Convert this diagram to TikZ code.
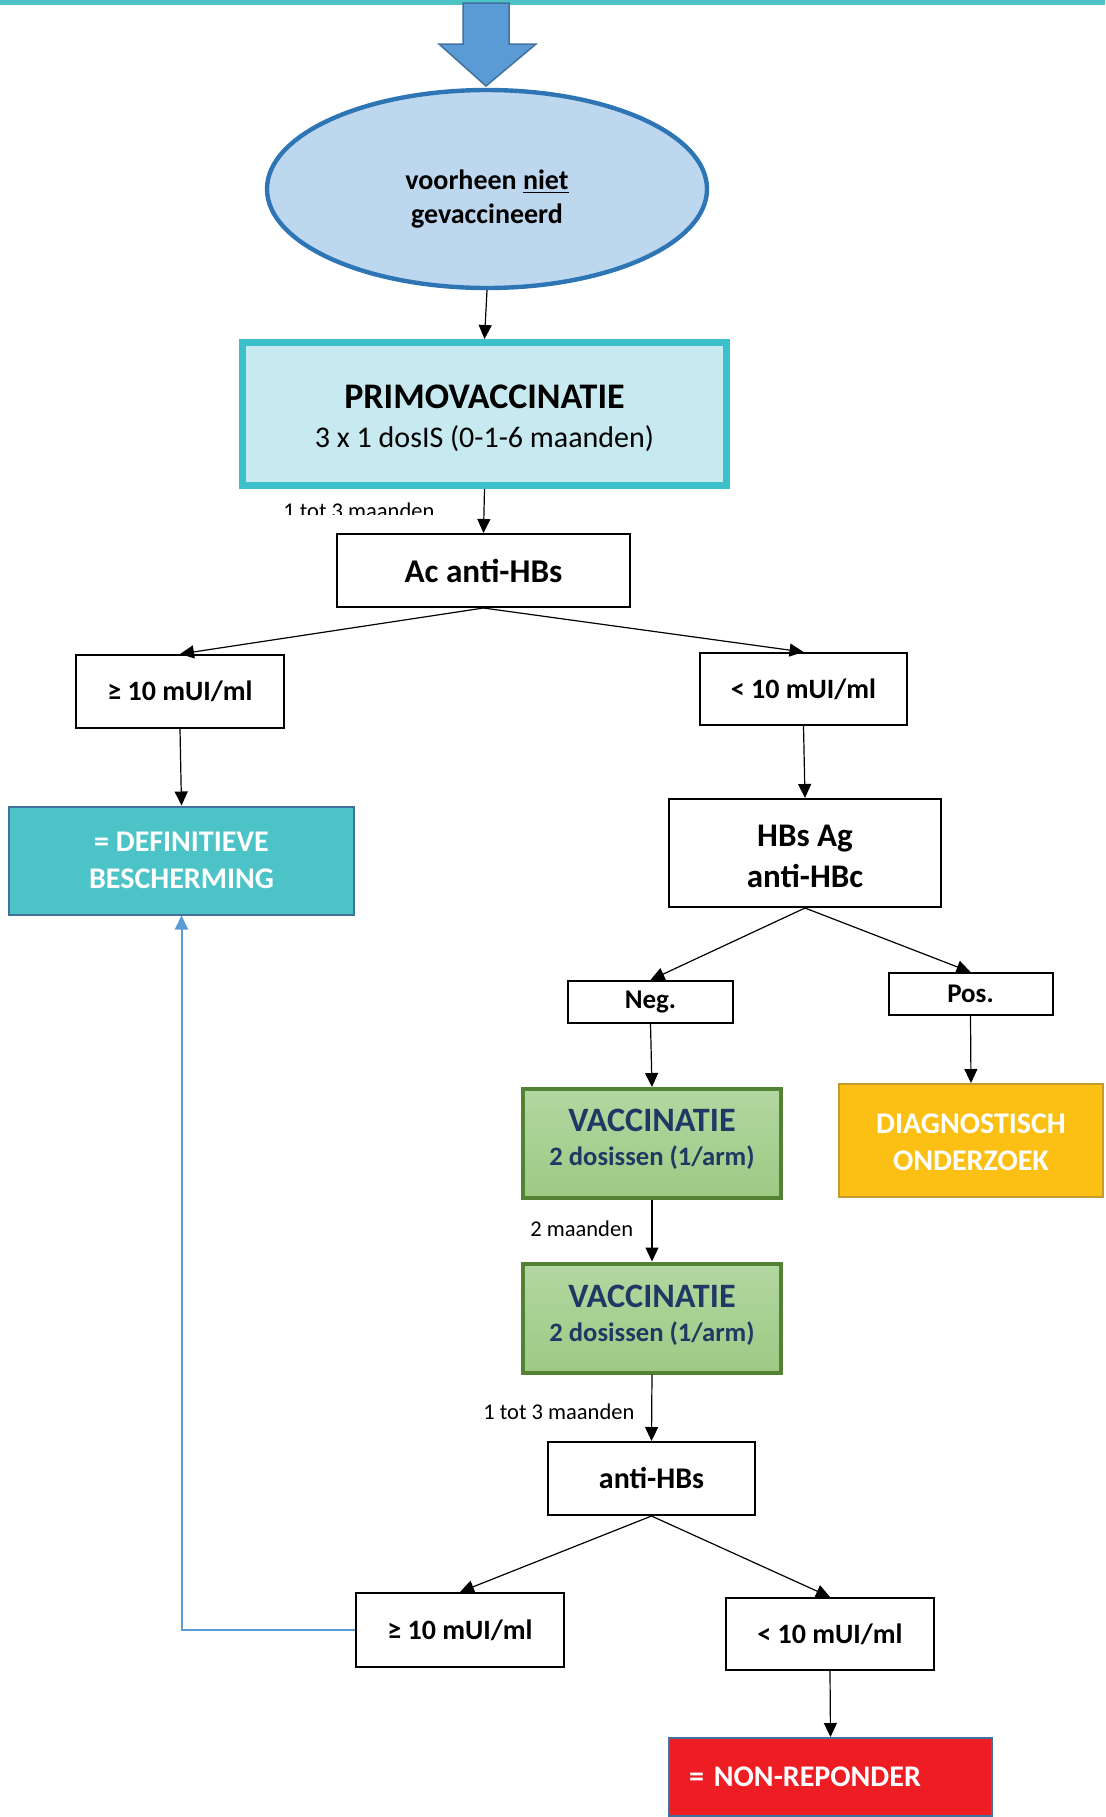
\documentclass[tikz,border=0pt]{standalone}
\usepackage{fontspec}
\setmainfont{Carlito}
\usetikzlibrary{arrows.meta,shapes.geometric}
\definecolor{tealbar}{HTML}{4BC3C7}
\definecolor{ellF}{HTML}{BDD7EE}
\definecolor{ellB}{HTML}{2E75B6}
\definecolor{blkF}{HTML}{5B9BD5}
\definecolor{blkB}{HTML}{41719C}
\definecolor{primoF}{HTML}{C7E9F0}
\definecolor{primoB}{HTML}{3CC0CC}
\definecolor{vacTop}{HTML}{B3D7A1}
\definecolor{vacBot}{HTML}{9DC984}
\definecolor{vacB}{HTML}{548235}
\definecolor{vacT}{HTML}{1F3864}
\definecolor{diagF}{HTML}{FBC013}
\definecolor{diagB}{HTML}{C49A2C}
\definecolor{nonF}{HTML}{EE1D23}
\begin{document}
\begin{tikzpicture}[x=0.5pt,y=-0.5pt,
  wbox/.style={draw=black, line width=1pt, fill=white, inner sep=0pt, align=center,
    font=\bfseries\fontsize{14}{17}\selectfont},
  conn/.style={-{Triangle[length=7pt,width=6.5pt]}, line width=0.6pt},
  bconn/.style={-{Triangle[length=7pt,width=6.5pt]}, line width=1pt, draw=blkF},
  vacbox/.style={draw=vacB, line width=2pt, top color=vacTop, bottom color=vacBot,
    inner sep=0pt, minimum width=129pt, minimum height=54.5pt},
  vactext/.style={align=center, inner sep=0pt, text=vacT, font=\bfseries\fontsize{13.3}{17}\selectfont},
  lbl/.style={inner sep=0pt, font=\fontsize{11.25}{13}\selectfont, anchor=base west}
]
\useasboundingbox (0,0) rectangle (1105,1817);
% top bar
\fill[tealbar] (0,0) rectangle (1105,5);
% block arrow
\draw[fill=blkF, draw=blkB, line width=0.75pt] (463,3) -- (509,3) -- (509,44) -- (536,44)
  -- (486,86) -- (439,44) -- (463,44) -- cycle;
% nodes
\node[ellipse, draw=ellB, line width=2.2pt, fill=ellF, minimum width=220pt, minimum height=99pt,
  inner sep=0pt,
  label={[align=center, inner sep=0pt, yshift=-4.9pt, font=\bfseries\fontsize{14}{17}\selectfont]center:{voorheen \underline{niet}\\gevaccineerd}}]
  (ell) at (487,189) {};
\node[draw=primoB, line width=3.5pt, fill=primoF, minimum width=242pt, minimum height=71.5pt,
  inner sep=0pt,
  label={[align=center, inner sep=0pt, yshift=-2.3pt, font=\fontsize{18}{19.5}\selectfont]center:{\textbf{PRIMOVACCINATIE}\\\fontsize{15}{19.5}\selectfont 3 x 1 dosIS (0-1-6 maanden)}}]
  (primo) at (484.5,414) {};
\node[wbox, minimum width=146.5pt, minimum height=36.5pt, font=\bfseries\fontsize{16.6}{18}\selectfont] (ac) at (483.5,570.5) {Ac anti-HBs};
\node[wbox, minimum width=104pt, minimum height=36.5pt] (geL) at (180,691.5) {≥ 10 mUI/ml};
\node[draw=blkB, line width=1pt, fill=tealbar, minimum width=172.5pt, minimum height=54pt,
  inner sep=0pt, align=center, text=white, font=\bfseries\fontsize{15}{18.5}\selectfont] (def) at (181.5,860.5)
  {= DEFINITIEVE\\BESCHERMING};
\node[wbox, minimum width=103.5pt, minimum height=36pt] (ltR) at (803.5,689) {< 10 mUI/ml};
\node[wbox, minimum width=136pt, minimum height=54pt,
  label={[align=center, inner sep=0pt, yshift=-1.7pt, font=\bfseries\fontsize{16.5}{20.5}\selectfont]center:{HBs Ag\\anti-HBc}}]
  (hbs) at (805,853) {};
\node[wbox, minimum width=82.5pt, minimum height=21pt, font=\bfseries\fontsize{13.5}{16}\selectfont] (neg) at (650.5,1002) {Neg.};
\node[wbox, minimum width=82pt, minimum height=21pt, font=\bfseries\fontsize{13.5}{16}\selectfont] (pos) at (970.5,994) {Pos.};
\node[vacbox, label={[vactext, yshift=2.3pt]center:{\fontsize{17.1}{17}\selectfont VACCINATIE\\2 dosissen (1/arm)}}]
  (vac1) at (652,1143.5) {};
\node[draw=diagB, line width=1pt, fill=diagF, minimum width=132pt, minimum height=56.5pt,
  inner sep=0pt,
  label={[align=center, inner sep=0pt, yshift=-1.1pt, text=white, font=\bfseries\fontsize{15}{18.5}\selectfont]center:{DIAGNOSTISCH\\ONDERZOEK}}]
  (diag) at (971,1140.5) {};
\node[vacbox, label={[vactext, yshift=1.5pt]center:{\fontsize{17.1}{17}\selectfont VACCINATIE\\2 dosissen (1/arm)}}]
  (vac2) at (652,1318) {};
\node[wbox, minimum width=103.5pt, minimum height=36.5pt, font=\bfseries\fontsize{15}{18}\selectfont] (anti) at (651.5,1478.5) {anti-HBs};
\node[wbox, minimum width=104pt, minimum height=37pt] (geLb) at (460,1630) {≥ 10 mUI/ml};
\node[wbox, minimum width=104pt, minimum height=36pt] (ltRb) at (830,1634) {< 10 mUI/ml};
\node[draw=blkB, line width=1pt, fill=nonF, minimum width=161.5pt, minimum height=39pt,
  inner xsep=10pt, inner ysep=0pt, text width=141.5pt, align=left, text=white,
  font=\bfseries\fontsize{15}{17}\selectfont] (non) at (830.5,1777) {= NON-REPONDER};
% labels
\begin{scope}
\clip (0,0) rectangle (1105,514);
\node[lbl] (lblA) at (283,518) {1 tot 3 maanden};
\end{scope}
\node[lbl] (lblB) at (530,1236) {2 maanden};
\node[lbl] (lblC) at (483,1419) {1 tot 3 maanden};
% connectors
\draw[conn] (ell.south) -- (primo.north);
\draw[conn] (primo.south) -- (ac.north);
\draw[conn] (ac.south) -- (geL.north);
\draw[conn] (ac.south) -- (ltR.north);
\draw[conn] (geL.south) -- (def.north);
\draw[conn] (ltR.south) -- (hbs.north);
\draw[conn] (hbs.south) -- (neg.north);
\draw[conn] (hbs.south) -- (pos.north);
\draw[conn] (neg.south) -- (vac1.north);
\draw[conn] (pos.south) -- (diag.north);
\draw[conn] (vac1.south) -- (vac2.north);
\draw[conn] (vac2.south) -- (anti.north);
\draw[conn] (anti.south) -- (geLb.north);
\draw[conn] (anti.south) -- (ltRb.north);
\draw[conn] (ltRb.south) -- (non.north);
\draw[bconn] (geLb.west) -| (def.south);
\end{tikzpicture}
\end{document}
